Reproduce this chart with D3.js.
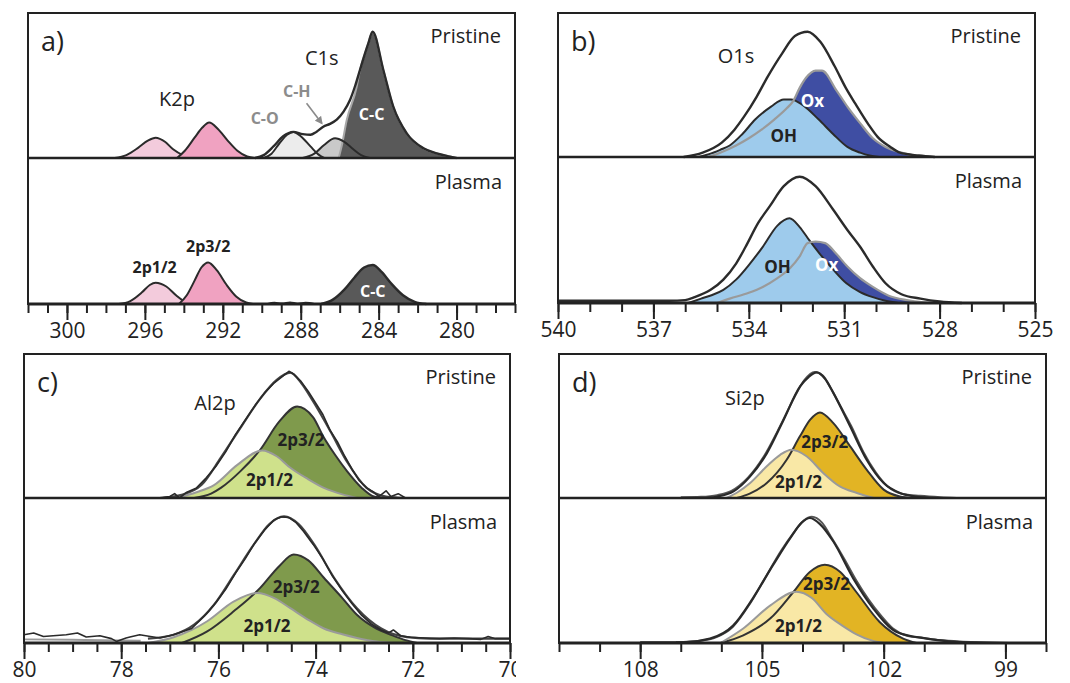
<!DOCTYPE html>
<html>
<head>
<meta charset="utf-8">
<script src="https://cdn.jsdelivr.net/npm/d3@7"></script>
<style>
  body { margin: 0; background: #fff; }
  text { font-family: "Open Sans", "Noto Sans", sans-serif; }
</style>
</head>
<body>
<div id="chart"></div>
<script>
// Tick labels (binding energy, eV)
var aTicks = [300, 296, 292, 288, 284, 280];
var bTicks = [540, 537, 534, 531, 528, 525];
var cTicks = [80, 78, 76, 74, 72, 70];
var dTicks = [108, 105, 102, 99];

// a) C1s / K2p, pristine  [eV, normalised intensity]
var aPriK2p12 = [[297.55,0],[296.95,0.02],[296.35,0.07],[295.85,0.12],[295.45,0.14],[294.95,0.11],[294.55,0.06],[294.05,0.02],[293.55,0]];
var aPriK2p32 = [[294.35,0],[293.95,0.05],[293.45,0.14],[293.05,0.21],[292.7,0.245],[292.25,0.2],[291.75,0.12],[291.25,0.05],[290.75,0.01],[290.35,0]];
var aPriCO = [[289.9,0],[289.5,0.03],[289.1,0.1],[288.7,0.16],[288.38,0.18],[288.0,0.15],[287.5,0.08],[287.1,0.025],[286.8,0]];
var aPriCH = [[287.9,0],[287.3,0.03],[286.8,0.09],[286.24,0.136],[285.8,0.115],[285.3,0.06],[284.9,0.02],[284.45,0]];
var aPriCC = [[286.05,0],[285.9,0.08],[285.64,0.26],[285.13,0.49],[285.0,0.58],[284.53,0.79],[284.31,0.871],[283.76,0.607],[283.25,0.354],[282.56,0.17],[281.7,0.067],[281.02,0.032],[280.34,0.01],[280.0,0]];
var aPriEnvelope = [[290.35,0],[289.9,0.02],[289.4,0.08],[288.9,0.15],[288.38,0.18],[287.9,0.165],[287.5,0.16],[287.2,0.18],[286.84,0.216],[286.5,0.235],[286.15,0.265],[285.8,0.32],[285.47,0.4],[285.2,0.5],[284.96,0.607],[284.53,0.79],[284.31,0.871],[283.76,0.607],[283.25,0.354],[282.56,0.17],[281.7,0.067],[281.02,0.032],[280.34,0.01],[280.0,0]];

// a) plasma
var aPlaK2p12 = [[297.35,0],[296.75,0.02],[296.15,0.08],[295.75,0.13],[295.45,0.146],[294.9,0.12],[294.4,0.06],[294.0,0.02],[293.6,0]];
var aPlaK2p32 = [[294.25,0],[293.85,0.06],[293.45,0.16],[293.1,0.25],[292.75,0.285],[292.3,0.23],[291.8,0.13],[291.3,0.05],[290.8,0.01],[290.45,0]];
var aPlaCC = [[286.95,0],[286.35,0.03],[285.75,0.1],[285.25,0.18],[284.75,0.25],[284.3,0.267],[283.85,0.22],[283.35,0.14],[282.75,0.06],[282.15,0.015],[281.55,0]];
var aPlaNoise = [[289.75,0],[289.35,0.01],[288.95,0.005],[288.55,0.012],[288.15,0.004],[287.75,0.01],[287.25,0]];

// b) O1s
var bPriEnvelope = [[536.05,0],[535.45,0.03],[534.85,0.1],[534.45,0.19],[534.15,0.28],[533.75,0.42],[533.4,0.56],[532.95,0.72],[532.55,0.84],[532.15,0.87],[531.75,0.8],[531.3,0.63],[530.95,0.48],[530.65,0.37],[530.25,0.23],[529.95,0.14],[529.55,0.07],[529.25,0.03],[528.65,0.01],[528.15,0]];
var bPriOH = [[535.6,0],[535.25,0.02],[534.9,0.05],[534.6,0.08],[534.2,0.16],[533.8,0.26],[533.3,0.35],[532.9,0.4],[532.67,0.4],[532.3,0.36],[531.8,0.26],[531.35,0.16],[530.9,0.07],[530.5,0.03],[530.2,0.01],[529.9,0]];
var bPriOx = [[535.3,0],[534.9,0.03],[534.4,0.08],[534.0,0.13],[533.6,0.19],[533.2,0.26],[532.8,0.34],[532.6,0.39],[532.4,0.48],[532.2,0.55],[531.9,0.6],[531.7,0.6],[531.25,0.465],[530.9,0.35],[530.5,0.235],[530.1,0.13],[529.7,0.07],[529.2,0.03],[528.8,0.01],[528.5,0]];
var bPlaEnvelope = [[540,0.015],[538,0.015],[536.5,0.015],[536.0,0.02],[535.7,0.04],[535.2,0.09],[534.8,0.16],[534.4,0.27],[534.1,0.385],[533.7,0.55],[533.35,0.66],[532.9,0.8],[532.4,0.865],[531.9,0.8],[531.35,0.64],[530.9,0.5],[530.5,0.385],[530.1,0.25],[529.7,0.135],[529.2,0.06],[528.6,0.03],[528.0,0.01],[527.3,0]];
var bPlaOH = [[535.9,0],[535.5,0.03],[535.15,0.055],[534.8,0.09],[534.4,0.16],[534.0,0.26],[533.56,0.385],[533.1,0.53],[532.72,0.58],[532.4,0.52],[532.1,0.43],[531.78,0.34],[531.35,0.23],[530.93,0.135],[530.5,0.075],[530.1,0.04],[529.7,0.015],[529.3,0]];
var bPlaOx = [[535.0,0],[534.6,0.03],[534.0,0.07],[533.56,0.11],[533.1,0.17],[532.7,0.24],[532.4,0.32],[532.15,0.41],[531.9,0.42],[531.6,0.41],[531.3,0.35],[530.9,0.25],[530.5,0.17],[530.1,0.11],[529.6,0.05],[529.04,0.02],[528.5,0.005],[528.0,0]];

// c) Al2p
var cPriFit = [[77.15,0],[76.78,0.02],[76.35,0.09],[75.95,0.28],[75.55,0.486],[75.14,0.69],[74.8,0.82],[74.52,0.87],[74.3,0.8],[74.05,0.67],[73.69,0.46],[73.35,0.25],[72.95,0.07],[72.55,0.01],[72.15,0]];
var cPriData = [[77.25,0],[77.0,0.01],[76.9,0.03],[76.8,0.0],[76.65,0.04],[76.45,0.07],[76.25,0.14],[76.05,0.22],[75.85,0.32],[75.65,0.44],[75.45,0.54],[75.25,0.64],[75.05,0.73],[74.85,0.8],[74.7,0.84],[74.55,0.88],[74.45,0.86],[74.3,0.81],[74.15,0.74],[74.0,0.66],[73.85,0.58],[73.7,0.47],[73.55,0.39],[73.4,0.29],[73.25,0.2],[73.1,0.12],[72.95,0.07],[72.8,0.04],[72.7,0.01],[72.55,0.05],[72.45,0.01],[72.3,0.03],[72.15,0],[71.85,0]];
var cPri32 = [[76.5,0],[76.15,0.03],[75.95,0.07],[75.55,0.185],[75.14,0.335],[74.75,0.53],[74.38,0.636],[74.05,0.56],[73.83,0.42],[73.6,0.3],[73.35,0.185],[73.05,0.07],[72.8,0.01],[72.55,0]];
var cPri12 = [[76.85,0],[76.45,0.04],[76.09,0.09],[75.61,0.23],[75.1,0.33],[74.8,0.29],[74.52,0.21],[74.15,0.13],[73.83,0.07],[73.45,0.025],[73.15,0]];
var cPlaFit = [[77.45,0.03],[76.92,0.057],[76.5,0.126],[76.09,0.264],[75.68,0.47],[75.27,0.68],[74.95,0.82],[74.65,0.873],[74.35,0.82],[74.03,0.68],[73.62,0.45],[73.15,0.24],[72.65,0.1],[72.12,0.04],[71.65,0.03],[70.0,0.03]];
var cPlaData = [[80,0.057],[79.8,0.069],[79.6,0.045],[79.4,0.05],[79.13,0.057],[78.9,0.069],[78.72,0.041],[78.44,0.05],[78.2,0.03],[78.1,0.011],[77.9,0.035],[77.82,0.041],[77.62,0.057],[77.4,0.045],[77.2,0.034],[76.93,0.057],[76.55,0.1],[76.25,0.2],[76.05,0.28],[75.85,0.37],[75.65,0.48],[75.45,0.58],[75.25,0.69],[75.05,0.78],[74.85,0.85],[74.7,0.87],[74.55,0.865],[74.4,0.83],[74.25,0.77],[74.05,0.68],[73.85,0.58],[73.65,0.46],[73.45,0.36],[73.25,0.27],[73.05,0.19],[72.85,0.13],[72.65,0.09],[72.5,0.07],[72.4,0.09],[72.25,0.05],[72.05,0.04],[71.75,0.035],[71.45,0.03],[71.15,0.035],[70.85,0.03],[70.6,0.025],[70.45,0.045],[70.3,0.03],[70.0,0.03]];
var cPlaBg = [[80,0.025],[79,0.022],[78,0.018],[77.6,0.015]];
var cPla32 = [[76.75,0],[76.23,0.08],[75.68,0.22],[75.14,0.38],[74.75,0.53],[74.45,0.61],[74.15,0.57],[73.83,0.45],[73.45,0.31],[73.15,0.195],[72.75,0.1],[72.45,0.057],[72.15,0.02],[71.91,0]];
var cPla12 = [[77.45,0],[76.92,0.04],[76.55,0.09],[76.23,0.15],[75.68,0.287],[75.2,0.345],[74.85,0.31],[74.52,0.24],[74.15,0.16],[73.83,0.1],[73.45,0.06],[73.15,0.035],[72.75,0.01],[72.35,0]];

// d) Si2p
var dPriFit = [[106.4,0],[106.1,0.01],[105.7,0.046],[105.29,0.15],[104.88,0.31],[104.47,0.54],[104.06,0.775],[103.85,0.84],[103.65,0.872],[103.45,0.83],[103.24,0.73],[102.83,0.5],[102.42,0.266],[102.0,0.104],[101.6,0.035],[101.2,0.01],[100.7,0]];
var dPriData = [[107.0,0.005],[106.5,0.008],[106.1,0.02],[105.75,0.05],[105.35,0.14],[104.95,0.29],[104.55,0.5],[104.2,0.7],[103.95,0.82],[103.7,0.875],[103.5,0.85],[103.3,0.76],[103.05,0.63],[102.8,0.5],[102.5,0.32],[102.2,0.18],[101.9,0.08],[101.55,0.03],[101.1,0.015],[100.6,0.005],[100.2,0]];
var dPri32 = [[105.62,0],[105.3,0.03],[104.88,0.104],[104.39,0.266],[104.06,0.43],[103.81,0.544],[103.57,0.594],[103.24,0.52],[102.83,0.36],[102.42,0.197],[102.0,0.058],[101.6,0.01],[101.3,0]];
var dPri12 = [[105.87,0],[105.6,0.04],[105.29,0.104],[104.88,0.22],[104.55,0.3],[104.27,0.335],[103.9,0.29],[103.49,0.174],[103.08,0.08],[102.66,0.035],[102.25,0]];
var dPlaFit = [[108,0.005],[106.92,0.005],[106.28,0.03],[105.71,0.12],[105.22,0.31],[104.72,0.54],[104.31,0.72],[104.02,0.83],[103.82,0.862],[103.57,0.82],[103.24,0.7],[102.75,0.446],[102.26,0.24],[101.68,0.076],[100.94,0.03],[100.32,0.01],[99.72,0]];
var dPlaData = [[107.12,0.005],[106.52,0.015],[106.12,0.04],[105.72,0.11],[105.32,0.26],[104.92,0.45],[104.52,0.64],[104.22,0.76],[103.97,0.845],[103.77,0.87],[103.52,0.83],[103.27,0.72],[102.97,0.58],[102.67,0.43],[102.37,0.3],[102.07,0.19],[101.77,0.1],[101.42,0.05],[101.02,0.035],[100.62,0.02],[100.12,0.01],[99.52,0.005],[98.92,0]];
var dPla32 = [[106.02,0],[105.46,0.053],[104.79,0.17],[104.23,0.35],[103.82,0.49],[103.45,0.54],[103.07,0.49],[102.67,0.35],[102.1,0.145],[101.52,0.03],[101.19,0]];
var dPla12 = [[106.02,0],[105.46,0.1],[104.79,0.26],[104.15,0.353],[103.77,0.31],[103.41,0.2],[103.02,0.12],[102.67,0.06],[102.32,0.02],[102.0,0]];

var ink = "#222";
var outline = "#2b2b2b";
var grayLine = "#9a9a9a";

var svg = d3.select("#chart")
  .append("svg")
  .attr("width", 1070)
  .attr("height", 683);

svg.append("defs").append("marker")
  .attr("id", "arrow")
  .attr("viewBox", "0 0 10 10")
  .attr("refX", 8).attr("refY", 5)
  .attr("markerWidth", 5).attr("markerHeight", 5)
  .attr("orient", "auto")
  .append("path")
  .attr("d", "M0,0 L10,5 L0,10 z")
  .attr("fill", "#8a8a8a");

// panel layout; top/bottom sub-plots share the x scale
var panels = [
  {
    label: "a)", left: 28, right: 515, top: 13, mid: 158, bottom: 304,
    domain: [302, 277], ticks: aTicks, minorStep: 1, clip: false,
    title: {text: "C1s", x: 286.92, y: 0.64},
    pristine: [
      {data: aPriK2p12, fill: "#f3cbdc", stroke: outline},
      {data: aPriK2p32, fill: "#f0a2c1", stroke: outline},
      {data: aPriCH, fill: "#c9c9c9"},
      {data: aPriCO, fill: "#ececec"},
      {data: aPriCC, fill: "#595959", stroke: "#a8a8a8", width: 2},
      {data: aPriCO, stroke: outline},
      {data: aPriCH, stroke: outline},
      {data: aPriEnvelope, stroke: outline, width: 2.4}
    ],
    plasma: [
      {data: aPlaK2p12, fill: "#f3cbdc", stroke: outline},
      {data: aPlaK2p32, fill: "#f0a2c1", stroke: outline},
      {data: aPlaCC, fill: "#595959", stroke: outline, width: 2.4},
      {data: aPlaNoise, stroke: outline, width: 1.5}
    ],
    priLabels: [
      {text: "K2p", x: 294.35, y: 0.359, size: 20},
      {text: "C-O", x: 289.85, y: 0.234, size: 16, bold: true, color: "#8c8c8c"},
      {text: "C-H", x: 288.2, y: 0.418, size: 16, bold: true, color: "#8c8c8c"},
      {text: "C-C", x: 284.36, y: 0.262, size: 16, bold: true, color: "#fff"}
    ],
    plaLabels: [
      {text: "2p1/2", x: 295.5, y: 0.214, size: 16, bold: true},
      {text: "2p3/2", x: 292.75, y: 0.358, size: 16, bold: true},
      {text: "C-C", x: 284.3, y: 0.05, size: 16, bold: true, color: "#fff"}
    ],
    arrow: [[287.7, 0.377], [286.92, 0.239]]
  },
  {
    label: "b)", left: 558, right: 1035, top: 13, mid: 157, bottom: 303,
    domain: [540, 525], ticks: bTicks, minorStep: 1, clip: false,
    title: {text: "O1s", x: 534.4, y: 0.653},
    pristine: [
      {data: bPriOx, fill: "#3f4ea3"},
      {data: bPriOH, fill: "#9ecbec"},
      {data: bPriOH, stroke: outline},
      {data: bPriOx, stroke: grayLine, width: 2.2},
      {data: bPriEnvelope, stroke: outline, width: 2.4}
    ],
    plasma: [
      {data: bPlaOx, fill: "#3f4ea3"},
      {data: bPlaOH, fill: "#9ecbec"},
      {data: bPlaOH, stroke: outline},
      {data: bPlaOx, stroke: grayLine, width: 2.2},
      {data: bPlaEnvelope, stroke: outline, width: 2.4}
    ],
    priLabels: [
      {text: "Ox", x: 532.0, y: 0.347, size: 17, bold: true, color: "#fff"},
      {text: "OH", x: 532.9, y: 0.104, size: 17, bold: true}
    ],
    plaLabels: [
      {text: "OH", x: 533.1, y: 0.205, size: 17, bold: true},
      {text: "Ox", x: 531.55, y: 0.219, size: 17, bold: true, color: "#fff"}
    ]
  },
  {
    label: "c)", left: 24, right: 510, top: 354, mid: 498, bottom: 643,
    domain: [80, 70], ticks: cTicks, minorStep: 0.5, clip: true,
    title: {text: "Al2p", x: 76.07, y: 0.613},
    pristine: [
      {data: cPri32, fill: "#7f9a4c"},
      {data: cPri12, fill: "#cfe18b"},
      {data: cPri32, stroke: "#333"},
      {data: cPri12, stroke: grayLine},
      {data: cPriFit, stroke: "#444", width: 2.2},
      {data: cPriData, stroke: "#2a2a2a", width: 1.6, linear: true}
    ],
    plasma: [
      {data: cPla32, fill: "#7f9a4c"},
      {data: cPla12, fill: "#cfe18b"},
      {data: cPlaBg, stroke: grayLine, width: 2},
      {data: cPla32, stroke: "#333"},
      {data: cPla12, stroke: grayLine},
      {data: cPlaFit, stroke: "#444", width: 2.2},
      {data: cPlaData, stroke: "#2a2a2a", width: 1.6, linear: true}
    ],
    priLabels: [
      {text: "2p3/2", x: 74.3, y: 0.36, size: 17, bold: true},
      {text: "2p1/2", x: 74.95, y: 0.085, size: 17, bold: true}
    ],
    plaLabels: [
      {text: "2p3/2", x: 74.4, y: 0.347, size: 17, bold: true},
      {text: "2p1/2", x: 75.0, y: 0.078, size: 17, bold: true}
    ]
  },
  {
    label: "d)", left: 559, right: 1046, top: 354, mid: 498, bottom: 643,
    domain: [110, 98], ticks: dTicks, minorStep: 1, clip: false,
    title: {text: "Si2p", x: 105.42, y: 0.648},
    pristine: [
      {data: dPri32, fill: "#e2b424"},
      {data: dPri12, fill: "#f9e8a6"},
      {data: dPri32, stroke: "#333"},
      {data: dPri12, stroke: grayLine},
      {data: dPriData, stroke: "#555", width: 2},
      {data: dPriFit, stroke: "#2a2a2a", width: 2.2}
    ],
    plasma: [
      {data: dPla32, fill: "#e2b424"},
      {data: dPla12, fill: "#f9e8a6"},
      {data: dPla32, stroke: "#333"},
      {data: dPla12, stroke: grayLine},
      {data: dPlaData, stroke: "#555", width: 2},
      {data: dPlaFit, stroke: "#2a2a2a", width: 2.2}
    ],
    priLabels: [
      {text: "2p3/2", x: 103.45, y: 0.347, size: 17, bold: true},
      {text: "2p1/2", x: 104.1, y: 0.07, size: 17, bold: true}
    ],
    plaLabels: [
      {text: "2p3/2", x: 103.41, y: 0.365, size: 17, bold: true},
      {text: "2p1/2", x: 104.1, y: 0.074, size: 17, bold: true}
    ]
  }
];

// draw one sub-plot (pristine or plasma) from its layer list
function drawLayers(g, x, y, layers) {
  layers.forEach(function(l) {
    var curve = l.linear ? d3.curveLinear : d3.curveMonotoneX;
    if (l.fill) {
      var area = d3.area()
        .x(d => x(d[0]))
        .y0(y(0))
        .y1(d => y(d[1]))
        .curve(curve);
      g.append("path")
        .datum(l.data)
        .attr("d", area)
        .attr("fill", l.fill)
        .attr("stroke", "none");
    }
    if (l.stroke) {
      var line = d3.line()
        .x(d => x(d[0]))
        .y(d => y(d[1]))
        .curve(curve);
      g.append("path")
        .datum(l.data)
        .attr("d", line)
        .attr("fill", "none")
        .attr("stroke", l.stroke)
        .attr("stroke-width", l.width || 2)
        .attr("stroke-linejoin", "round");
    }
  });
}

function drawLabels(g, x, y, labels) {
  labels.forEach(function(t) {
    g.append("text")
      .attr("x", x(t.x))
      .attr("y", y(t.y))
      .attr("text-anchor", "middle")
      .attr("font-size", t.size + "px")
      .attr("font-weight", t.bold ? 700 : 400)
      .attr("fill", t.color || ink)
      .text(t.text);
  });
}

panels.forEach(function(p, i) {
  var g = svg.append("g");

  var x = d3.scaleLinear().domain(p.domain).range([p.left, p.right]);
  var yPri = d3.scaleLinear().domain([0, 1]).range([p.mid, p.top]);
  var yPla = d3.scaleLinear().domain([0, 1]).range([p.bottom, p.mid]);

  var plot = g.append("g");
  drawLayers(plot, x, yPri, p.pristine);
  drawLayers(plot, x, yPla, p.plasma);

  drawLabels(g, x, yPri, p.priLabels);
  drawLabels(g, x, yPla, p.plaLabels);

  g.append("text")
    .attr("x", x(p.title.x)).attr("y", yPri(p.title.y))
    .attr("text-anchor", "middle")
    .attr("font-size", "20px")
    .attr("fill", ink)
    .text(p.title.text);

  if (p.arrow) {
    g.append("line")
      .attr("x1", x(p.arrow[0][0])).attr("y1", yPri(p.arrow[0][1]))
      .attr("x2", x(p.arrow[1][0])).attr("y2", yPri(p.arrow[1][1]))
      .attr("stroke", "#8a8a8a")
      .attr("stroke-width", 1.6)
      .attr("marker-end", "url(#arrow)");
  }

  // frame and divider
  g.append("rect")
    .attr("x", p.left).attr("y", p.top)
    .attr("width", p.right - p.left).attr("height", p.bottom - p.top)
    .attr("fill", "none").attr("stroke", ink).attr("stroke-width", 2);
  g.append("line")
    .attr("x1", p.left).attr("x2", p.right)
    .attr("y1", p.mid).attr("y2", p.mid)
    .attr("stroke", ink).attr("stroke-width", 2.4);
  g.append("line")
    .attr("x1", p.left).attr("x2", p.right)
    .attr("y1", p.bottom).attr("y2", p.bottom)
    .attr("stroke", ink).attr("stroke-width", 2.8);

  // panel texts
  g.append("text")
    .attr("x", p.left + 13).attr("y", p.top + 38)
    .attr("font-size", "27px").attr("fill", ink)
    .text(p.label);
  g.append("text")
    .attr("x", p.right - 14).attr("y", p.top + 30)
    .attr("text-anchor", "end")
    .attr("font-size", "20px").attr("fill", ink)
    .text("Pristine");
  g.append("text")
    .attr("x", p.right - 13).attr("y", p.mid + 31)
    .attr("text-anchor", "end")
    .attr("font-size", "20px").attr("fill", ink)
    .text("Plasma");

  // axes: minor ticks + labelled major ticks
  var lo = Math.min(p.domain[0], p.domain[1]);
  var hi = Math.max(p.domain[0], p.domain[1]);
  var minor = d3.range(lo, hi + p.minorStep / 2, p.minorStep);

  var minorAxis = g.append("g")
    .attr("transform", `translate(0,${p.bottom})`)
    .call(d3.axisBottom(x).tickValues(minor).tickSize(9).tickFormat(""));
  minorAxis.select(".domain").remove();

  var majorAxis = g.append("g")
    .attr("transform", `translate(0,${p.bottom})`)
    .call(d3.axisBottom(x).tickValues(p.ticks).tickSize(16).tickPadding(3).tickFormat(d3.format("d")));
  majorAxis.select(".domain").remove();

  g.selectAll(".tick line").attr("stroke", ink).attr("stroke-width", 2);
  majorAxis.selectAll("text")
    .attr("font-size", "21px")
    .attr("font-family", "\"Open Sans\", \"Noto Sans\", sans-serif")
    .attr("fill", ink);

  if (p.clip) {
    svg.append("clipPath").attr("id", "clip" + i)
      .append("rect").attr("x", 0).attr("y", -20).attr("width", p.right + 6).attr("height", 80);
    majorAxis.attr("clip-path", "url(#clip" + i + ")");
  }
});
</script>
</body>
</html>
